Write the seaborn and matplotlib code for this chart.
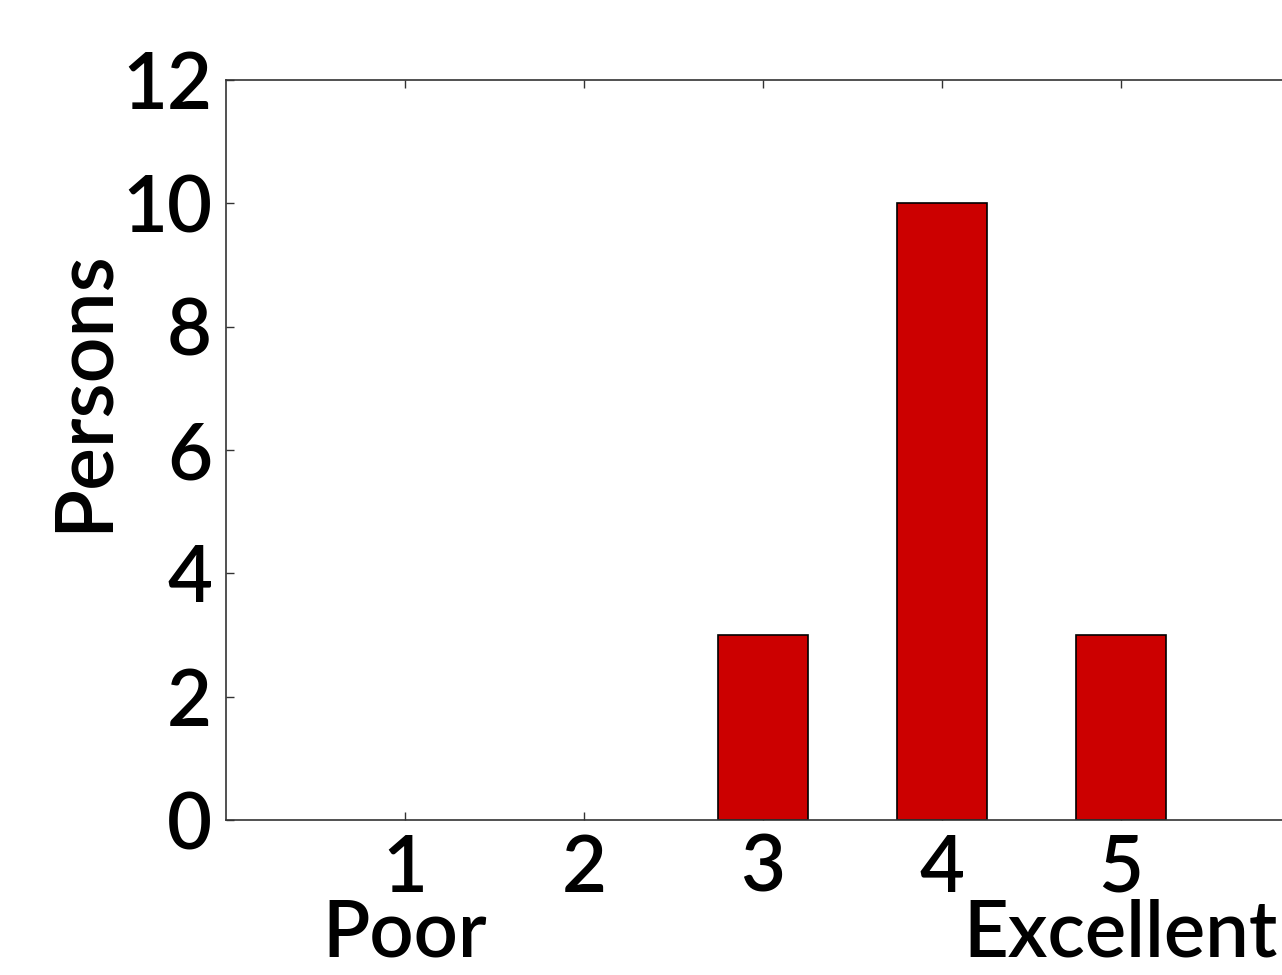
import matplotlib
matplotlib.use("Agg")
import matplotlib.pyplot as plt
import seaborn as sns
import pandas as pd

ratings = ["1", "2", "3", "4", "5"]
persons = [0, 0, 3, 10, 3]
tick_labels = ["1\nPoor", "2", "3", "4", "5\nExcellent"]
y_ticks = [0, 2, 4, 6, 8, 10, 12]

sns.set_theme(style="white")
plt.rcParams['font.family'] = ['Lato', 'DejaVu Sans']
plt.rcParams['text.color'] = 'black'
plt.rcParams['xtick.color'] = 'black'
plt.rcParams['ytick.color'] = 'black'
plt.rcParams['axes.labelcolor'] = 'black'

df = pd.DataFrame({"rating": ratings, "persons": persons})

fig = plt.figure(figsize=(12.82, 9.75), dpi=100)
ax = fig.add_axes([226/1282, 155/975, 1074/1282, 740/975])
sns.barplot(data=df, x="rating", y="persons", order=ratings, color="#CC0000",
            saturation=1, width=0.5, edgecolor="black", linewidth=1.2, ax=ax)
for p in ax.patches:
    if p.get_height() == 0:
        p.set_visible(False)

ax.set_xlim(-1, 5)
ax.set_ylim(0, 12)
ax.set_yticks(y_ticks)
ax.set_yticklabels([str(v) for v in y_ticks], fontweight="semibold")
ax.set_xticks(range(len(ratings)))
ax.set_xticklabels(tick_labels, linespacing=0.88, fontweight="semibold")
ax.set_xlabel("")
ax.set_ylabel("Persons", fontsize=58, fontweight="semibold")
ax.yaxis.set_label_coords(-0.098, 0.58)

for s in ["left", "bottom", "top"]:
    ax.spines[s].set_visible(True)
    ax.spines[s].set_color("#333333")
    ax.spines[s].set_linewidth(1.2)
ax.spines["right"].set_visible(False)

ax.tick_params(axis="both", direction="in", length=6, width=1, color="#333333",
               labelsize=56, labelcolor="black")
ax.tick_params(axis="x", top=True, bottom=True, pad=10)
ax.tick_params(axis="y", left=True, right=False, pad=10)

fig.savefig("out.png", dpi=100)
